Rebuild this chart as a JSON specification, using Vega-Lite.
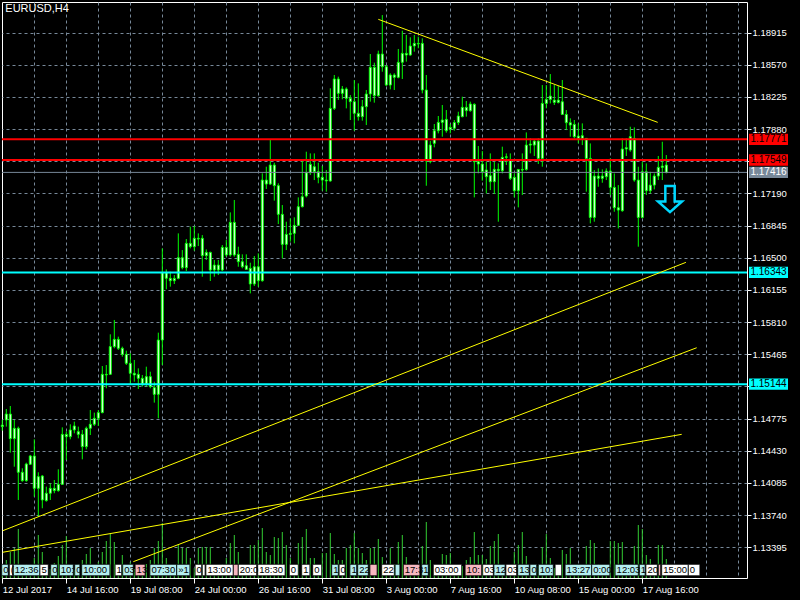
{
"$schema":"https://vega.github.io/schema/vega-lite/v6.json",
"width":745,"height":576,
"autosize":{"type":"none"},
"padding":{"left":2,"top":2,"right":53,"bottom":22},
"background":"#000000",
"config":{"view":{"stroke":"#FFFFFF","strokeWidth":1},"scale":{"continuousPadding":0}},
"datasets":{
"candles":[
{"i":0,"o":1.14689,"h":1.1476,"l":1.14646,"c":1.14706},
{"i":1,"o":1.1476,"h":1.14878,"l":1.14689,"c":1.14824},
{"i":2,"o":1.14824,"h":1.1491,"l":1.1441,"c":1.1456},
{"i":3,"o":1.1456,"h":1.1476,"l":1.14259,"c":1.14671},
{"i":4,"o":1.14671,"h":1.14689,"l":1.13902,"c":1.14199},
{"i":5,"o":1.14199,"h":1.14242,"l":1.14098,"c":1.14109},
{"i":6,"o":1.14109,"h":1.14302,"l":1.14098,"c":1.14288},
{"i":7,"o":1.14285,"h":1.14385,"l":1.14277,"c":1.14374},
{"i":8,"o":1.14374,"h":1.14553,"l":1.13938,"c":1.14027},
{"i":9,"o":1.14027,"h":1.14199,"l":1.13723,"c":1.14152},
{"i":10,"o":1.14159,"h":1.1417,"l":1.13813,"c":1.13902},
{"i":11,"o":1.13895,"h":1.14045,"l":1.13884,"c":1.13974},
{"i":12,"o":1.13974,"h":1.14081,"l":1.13902,"c":1.14027},
{"i":13,"o":1.14027,"h":1.14116,"l":1.13974,"c":1.14002},
{"i":14,"o":1.14002,"h":1.14231,"l":1.13991,"c":1.1407},
{"i":15,"o":1.1407,"h":1.14681,"l":1.14063,"c":1.14606},
{"i":16,"o":1.14606,"h":1.14635,"l":1.14331,"c":1.14581},
{"i":17,"o":1.14581,"h":1.14714,"l":1.14553,"c":1.14653},
{"i":18,"o":1.14653,"h":1.14742,"l":1.14617,"c":1.14696},
{"i":19,"o":1.14635,"h":1.14689,"l":1.14563,"c":1.14606},
{"i":20,"o":1.14606,"h":1.14653,"l":1.14338,"c":1.14474},
{"i":21,"o":1.14474,"h":1.14689,"l":1.14445,"c":1.14671},
{"i":22,"o":1.14671,"h":1.14867,"l":1.14599,"c":1.14714},
{"i":23,"o":1.14714,"h":1.14839,"l":1.14696,"c":1.14778},
{"i":24,"o":1.14778,"h":1.14867,"l":1.14696,"c":1.14839},
{"i":25,"o":1.14839,"h":1.15339,"l":1.14832,"c":1.1525},
{"i":26,"o":1.1525,"h":1.1535,"l":1.151,"c":1.15243},
{"i":27,"o":1.1525,"h":1.15679,"l":1.15243,"c":1.15547},
{"i":28,"o":1.15547,"h":1.15833,"l":1.15529,"c":1.15625},
{"i":29,"o":1.15625,"h":1.15654,"l":1.15511,"c":1.15529},
{"i":30,"o":1.15529,"h":1.15547,"l":1.15439,"c":1.15464},
{"i":31,"o":1.15464,"h":1.15504,"l":1.1535,"c":1.15368},
{"i":32,"o":1.15368,"h":1.15475,"l":1.15146,"c":1.15261},
{"i":33,"o":1.15261,"h":1.15404,"l":1.15171,"c":1.15243},
{"i":34,"o":1.1525,"h":1.15314,"l":1.15093,"c":1.15207},
{"i":35,"o":1.15207,"h":1.15243,"l":1.15118,"c":1.15146},
{"i":36,"o":1.15146,"h":1.15332,"l":1.15118,"c":1.15225},
{"i":37,"o":1.15225,"h":1.15278,"l":1.151,"c":1.15118},
{"i":38,"o":1.15107,"h":1.15171,"l":1.14946,"c":1.15035},
{"i":39,"o":1.15035,"h":1.15697,"l":1.14778,"c":1.15618},
{"i":40,"o":1.15618,"h":1.16601,"l":1.1535,"c":1.16341},
{"i":41,"o":1.16341,"h":1.16376,"l":1.16162,"c":1.1628},
{"i":42,"o":1.1628,"h":1.16351,"l":1.1619,"c":1.16254},
{"i":43,"o":1.16254,"h":1.16315,"l":1.16219,"c":1.16279},
{"i":44,"o":1.16279,"h":1.16762,"l":1.16269,"c":1.16501},
{"i":45,"o":1.16501,"h":1.16583,"l":1.16376,"c":1.16394},
{"i":46,"o":1.16394,"h":1.16701,"l":1.16358,"c":1.16655},
{"i":47,"o":1.16655,"h":1.16834,"l":1.16601,"c":1.16619},
{"i":48,"o":1.16619,"h":1.16841,"l":1.16576,"c":1.16709},
{"i":49,"o":1.16709,"h":1.16762,"l":1.16626,"c":1.16701},
{"i":50,"o":1.16709,"h":1.16744,"l":1.16297,"c":1.16523},
{"i":51,"o":1.16523,"h":1.1659,"l":1.16476,"c":1.16558},
{"i":52,"o":1.16558,"h":1.16565,"l":1.16251,"c":1.16369},
{"i":53,"o":1.16369,"h":1.16476,"l":1.16297,"c":1.16422},
{"i":54,"o":1.16422,"h":1.16476,"l":1.16315,"c":1.16369},
{"i":55,"o":1.16369,"h":1.16637,"l":1.16358,"c":1.16612},
{"i":56,"o":1.16612,"h":1.16691,"l":1.16512,"c":1.1653},
{"i":57,"o":1.1653,"h":1.16987,"l":1.16512,"c":1.1688},
{"i":58,"o":1.1688,"h":1.1712,"l":1.16512,"c":1.1653},
{"i":59,"o":1.16537,"h":1.16619,"l":1.16404,"c":1.16458},
{"i":60,"o":1.16458,"h":1.16537,"l":1.16387,"c":1.16404},
{"i":61,"o":1.16415,"h":1.16537,"l":1.16376,"c":1.16376},
{"i":62,"o":1.16387,"h":1.16447,"l":1.16118,"c":1.16219},
{"i":63,"o":1.16219,"h":1.16519,"l":1.16197,"c":1.16404},
{"i":64,"o":1.16404,"h":1.16548,"l":1.1619,"c":1.16254},
{"i":65,"o":1.16254,"h":1.17406,"l":1.16244,"c":1.17334},
{"i":66,"o":1.17334,"h":1.17477,"l":1.17238,"c":1.17291},
{"i":67,"o":1.17291,"h":1.17774,"l":1.17281,"c":1.17495},
{"i":68,"o":1.17495,"h":1.1752,"l":1.17113,"c":1.17274},
{"i":69,"o":1.17274,"h":1.17299,"l":1.16862,"c":1.16966},
{"i":70,"o":1.16966,"h":1.17066,"l":1.16494,"c":1.16644},
{"i":71,"o":1.16644,"h":1.16887,"l":1.16583,"c":1.16751},
{"i":72,"o":1.16751,"h":1.16923,"l":1.16673,"c":1.16762},
{"i":73,"o":1.16762,"h":1.16934,"l":1.16655,"c":1.16848},
{"i":74,"o":1.16848,"h":1.17148,"l":1.16841,"c":1.17048},
{"i":75,"o":1.17048,"h":1.17542,"l":1.17041,"c":1.17155},
{"i":76,"o":1.17163,"h":1.17638,"l":1.17148,"c":1.17413},
{"i":77,"o":1.17413,"h":1.1762,"l":1.17388,"c":1.17502},
{"i":78,"o":1.17477,"h":1.1762,"l":1.17334,"c":1.17424},
{"i":79,"o":1.17424,"h":1.1752,"l":1.17299,"c":1.17363},
{"i":80,"o":1.17363,"h":1.17485,"l":1.1722,"c":1.17334},
{"i":81,"o":1.17334,"h":1.17442,"l":1.17209,"c":1.17324},
{"i":82,"o":1.17324,"h":1.18318,"l":1.17316,"c":1.18103},
{"i":83,"o":1.18103,"h":1.18461,"l":1.18085,"c":1.18418},
{"i":84,"o":1.18418,"h":1.18443,"l":1.18193,"c":1.18264},
{"i":85,"o":1.18264,"h":1.18343,"l":1.182,"c":1.18311},
{"i":86,"o":1.18311,"h":1.18328,"l":1.18103,"c":1.1821},
{"i":87,"o":1.1821,"h":1.18246,"l":1.17978,"c":1.18175},
{"i":88,"o":1.18175,"h":1.18407,"l":1.17863,"c":1.1805},
{"i":89,"o":1.1805,"h":1.18371,"l":1.17971,"c":1.18014},
{"i":90,"o":1.18014,"h":1.18193,"l":1.17971,"c":1.18121},
{"i":91,"o":1.18121,"h":1.183,"l":1.17924,"c":1.18257},
{"i":92,"o":1.18257,"h":1.18686,"l":1.18175,"c":1.18543},
{"i":93,"o":1.18543,"h":1.18593,"l":1.18164,"c":1.18239},
{"i":94,"o":1.18239,"h":1.18722,"l":1.18228,"c":1.18686},
{"i":95,"o":1.18686,"h":1.19104,"l":1.18496,"c":1.1855},
{"i":96,"o":1.1855,"h":1.18568,"l":1.18343,"c":1.18353},
{"i":97,"o":1.18353,"h":1.18479,"l":1.18307,"c":1.18461},
{"i":98,"o":1.18461,"h":1.18479,"l":1.183,"c":1.18436},
{"i":99,"o":1.18436,"h":1.1874,"l":1.18425,"c":1.18597},
{"i":100,"o":1.18597,"h":1.18936,"l":1.18418,"c":1.18693},
{"i":101,"o":1.18693,"h":1.1889,"l":1.18604,"c":1.18675},
{"i":102,"o":1.18675,"h":1.18865,"l":1.18668,"c":1.18772},
{"i":103,"o":1.18772,"h":1.1889,"l":1.18711,"c":1.188},
{"i":104,"o":1.188,"h":1.18872,"l":1.18747,"c":1.18793},
{"i":105,"o":1.188,"h":1.18854,"l":1.18264,"c":1.183},
{"i":106,"o":1.183,"h":1.18461,"l":1.17273,"c":1.17538},
{"i":107,"o":1.17531,"h":1.17753,"l":1.17513,"c":1.1771},
{"i":108,"o":1.17728,"h":1.17935,"l":1.17685,"c":1.17863},
{"i":109,"o":1.17863,"h":1.18021,"l":1.17835,"c":1.17953},
{"i":110,"o":1.17953,"h":1.18139,"l":1.17799,"c":1.17978},
{"i":111,"o":1.17985,"h":1.18085,"l":1.17842,"c":1.17863},
{"i":112,"o":1.17878,"h":1.17935,"l":1.17835,"c":1.17899},
{"i":113,"o":1.17889,"h":1.17978,"l":1.17863,"c":1.17951},
{"i":114,"o":1.17951,"h":1.18067,"l":1.17924,"c":1.18021},
{"i":115,"o":1.18014,"h":1.18228,"l":1.18007,"c":1.18114},
{"i":116,"o":1.18114,"h":1.18182,"l":1.18014,"c":1.18078},
{"i":117,"o":1.18078,"h":1.18175,"l":1.18067,"c":1.1815},
{"i":118,"o":1.18146,"h":1.18157,"l":1.17148,"c":1.17531},
{"i":119,"o":1.17531,"h":1.17699,"l":1.17406,"c":1.17506},
{"i":120,"o":1.17506,"h":1.17645,"l":1.17327,"c":1.17424},
{"i":121,"o":1.17442,"h":1.17531,"l":1.17191,"c":1.1737},
{"i":122,"o":1.17381,"h":1.1762,"l":1.17227,"c":1.17316},
{"i":123,"o":1.17316,"h":1.17531,"l":1.17184,"c":1.17449},
{"i":124,"o":1.17449,"h":1.17513,"l":1.16887,"c":1.17434},
{"i":125,"o":1.17434,"h":1.17692,"l":1.17405,"c":1.17577},
{"i":126,"o":1.17577,"h":1.1762,"l":1.17495,"c":1.17584},
{"i":127,"o":1.17549,"h":1.1762,"l":1.17334,"c":1.17352},
{"i":128,"o":1.17363,"h":1.17405,"l":1.17148,"c":1.17219},
{"i":129,"o":1.17219,"h":1.17441,"l":1.17041,"c":1.17448},
{"i":130,"o":1.17448,"h":1.1762,"l":1.17173,"c":1.17441},
{"i":131,"o":1.17448,"h":1.17845,"l":1.17434,"c":1.17709},
{"i":132,"o":1.17709,"h":1.17781,"l":1.1762,"c":1.1772},
{"i":133,"o":1.17709,"h":1.17763,"l":1.17592,"c":1.17752},
{"i":134,"o":1.17752,"h":1.17781,"l":1.17506,"c":1.17566},
{"i":135,"o":1.17566,"h":1.18353,"l":1.17477,"c":1.18156},
{"i":136,"o":1.18156,"h":1.18353,"l":1.18103,"c":1.18199},
{"i":137,"o":1.18199,"h":1.18471,"l":1.18156,"c":1.18235},
{"i":138,"o":1.18192,"h":1.18353,"l":1.18139,"c":1.18167},
{"i":139,"o":1.18167,"h":1.18342,"l":1.18156,"c":1.18192},
{"i":140,"o":1.18174,"h":1.18407,"l":1.18031,"c":1.18038},
{"i":141,"o":1.18038,"h":1.18085,"l":1.1787,"c":1.17949},
{"i":142,"o":1.17949,"h":1.17996,"l":1.17799,"c":1.17924},
{"i":143,"o":1.17931,"h":1.17978,"l":1.17781,"c":1.17799},
{"i":144,"o":1.17806,"h":1.17942,"l":1.17727,"c":1.17781},
{"i":145,"o":1.17781,"h":1.17942,"l":1.17709,"c":1.1781},
{"i":146,"o":1.17781,"h":1.17781,"l":1.17209,"c":1.17566},
{"i":147,"o":1.17566,"h":1.17727,"l":1.16869,"c":1.16933},
{"i":148,"o":1.16933,"h":1.17441,"l":1.16887,"c":1.17377},
{"i":149,"o":1.17377,"h":1.17459,"l":1.17262,"c":1.17352},
{"i":150,"o":1.17352,"h":1.17448,"l":1.17305,"c":1.17377},
{"i":151,"o":1.1737,"h":1.17459,"l":1.17334,"c":1.17431},
{"i":152,"o":1.17431,"h":1.17566,"l":1.17173,"c":1.17255},
{"i":153,"o":1.17255,"h":1.17405,"l":1.16994,"c":1.17037},
{"i":154,"o":1.17037,"h":1.1728,"l":1.16815,"c":1.17012},
{"i":155,"o":1.17005,"h":1.17781,"l":1.16994,"c":1.17667},
{"i":156,"o":1.17667,"h":1.17781,"l":1.17592,"c":1.17681},
{"i":157,"o":1.17656,"h":1.17906,"l":1.17638,"c":1.17799},
{"i":158,"o":1.17781,"h":1.17899,"l":1.17316,"c":1.17334},
{"i":159,"o":1.17334,"h":1.17477,"l":1.16619,"c":1.16933},
{"i":160,"o":1.16933,"h":1.17531,"l":1.16923,"c":1.17423},
{"i":161,"o":1.17423,"h":1.17513,"l":1.17173,"c":1.17219},
{"i":162,"o":1.17219,"h":1.17423,"l":1.17191,"c":1.1728},
{"i":163,"o":1.1728,"h":1.17405,"l":1.17234,"c":1.17377},
{"i":164,"o":1.17377,"h":1.17592,"l":1.17334,"c":1.1747},
{"i":165,"o":1.1747,"h":1.17745,"l":1.17334,"c":1.17484},
{"i":166,"o":1.17495,"h":1.17602,"l":1.17405,"c":1.17416}
],
"volume":[
{"i":0,"v":3000},{"i":1,"v":4500},{"i":2,"v":6500},{"i":3,"v":7500},{"i":4,"v":12250},{"i":5,"v":2500},{"i":6,"v":3500},{"i":7,"v":2000},{"i":8,"v":5000},{"i":9,"v":10750},
{"i":10,"v":6500},{"i":11,"v":3000},{"i":12,"v":2250},{"i":13,"v":3750},{"i":14,"v":5500},{"i":15,"v":8250},{"i":16,"v":10500},{"i":17,"v":2500},{"i":18,"v":2000},{"i":19,"v":3500},
{"i":20,"v":4500},{"i":21,"v":6000},{"i":22,"v":7500},{"i":23,"v":3000},{"i":24,"v":4000},{"i":25,"v":6500},{"i":26,"v":9250},{"i":27,"v":11000},{"i":28,"v":9000},{"i":29,"v":3000},
{"i":30,"v":5750},{"i":31,"v":2500},{"i":32,"v":4000},{"i":33,"v":2250},{"i":34,"v":3000},{"i":35,"v":2000},{"i":36,"v":3500},{"i":37,"v":4500},{"i":38,"v":7500},{"i":39,"v":9250},
{"i":40,"v":13750},{"i":41,"v":5000},{"i":42,"v":3000},{"i":43,"v":2000},{"i":44,"v":8500},{"i":45,"v":7500},{"i":46,"v":7500},{"i":47,"v":5000},{"i":48,"v":2500},{"i":49,"v":7500},
{"i":50,"v":7750},{"i":51,"v":7750},{"i":52,"v":7750},{"i":53,"v":3000},{"i":54,"v":2250},{"i":55,"v":3500},{"i":56,"v":5000},{"i":57,"v":8750},{"i":58,"v":10750},{"i":59,"v":6500},
{"i":60,"v":2500},{"i":61,"v":2000},{"i":62,"v":8250},{"i":63,"v":8250},{"i":64,"v":9500},{"i":65,"v":12500},{"i":66,"v":6500},{"i":67,"v":5750},{"i":68,"v":10250},{"i":69,"v":10000},
{"i":70,"v":11500},{"i":71,"v":8250},{"i":72,"v":5000},{"i":73,"v":3000},{"i":74,"v":8750},{"i":75,"v":10250},{"i":76,"v":12250},{"i":77,"v":5000},{"i":78,"v":5000},{"i":79,"v":2000},
{"i":80,"v":6250},{"i":81,"v":6250},{"i":82,"v":11250},{"i":83,"v":6000},{"i":84,"v":4500},{"i":85,"v":4500},{"i":86,"v":7500},{"i":87,"v":8250},{"i":88,"v":11250},{"i":89,"v":7500},
{"i":90,"v":6250},{"i":91,"v":4500},{"i":92,"v":7500},{"i":93,"v":7500},{"i":94,"v":9750},{"i":95,"v":5250},{"i":96,"v":3000},{"i":97,"v":7500},{"i":98,"v":3500},{"i":99,"v":9000},
{"i":100,"v":10750},{"i":101,"v":5250},{"i":102,"v":2500},{"i":103,"v":2000},{"i":104,"v":3000},{"i":105,"v":8000},{"i":106,"v":14000},{"i":107,"v":4500},{"i":108,"v":3000},{"i":109,"v":2500},
{"i":110,"v":6000},{"i":111,"v":5750},{"i":112,"v":6250},{"i":113,"v":2500},{"i":114,"v":2000},{"i":115,"v":3000},{"i":116,"v":4500},{"i":117,"v":5250},{"i":118,"v":11500},{"i":119,"v":5750},
{"i":120,"v":5750},{"i":121,"v":4750},{"i":122,"v":8000},{"i":123,"v":9250},{"i":124,"v":11000},{"i":125,"v":3000},{"i":126,"v":2000},{"i":127,"v":2500},{"i":128,"v":6500},{"i":129,"v":8250},
{"i":130,"v":11500},{"i":131,"v":5500},{"i":132,"v":2500},{"i":133,"v":2000},{"i":134,"v":3000},{"i":135,"v":7750},{"i":136,"v":11000},{"i":137,"v":5000},{"i":138,"v":2500},{"i":139,"v":2000},
{"i":140,"v":7000},{"i":141,"v":6000},{"i":142,"v":7500},{"i":143,"v":3000},{"i":144,"v":2250},{"i":145,"v":2500},{"i":146,"v":8000},{"i":147,"v":9500},{"i":148,"v":8750},{"i":149,"v":3500},
{"i":150,"v":2500},{"i":151,"v":3000},{"i":152,"v":9250},{"i":153,"v":9250},{"i":154,"v":8750},{"i":155,"v":9000},{"i":156,"v":3500},{"i":157,"v":3000},{"i":158,"v":8000},{"i":159,"v":13250},
{"i":160,"v":12250},{"i":161,"v":5750},{"i":162,"v":4750},{"i":163,"v":3000},{"i":164,"v":8250},{"i":165,"v":8250},{"i":166,"v":4750}
],
"hlines":[
{"p":1.17771,"kind":"red","t":"1.17771"},
{"p":1.17549,"kind":"red","t":"1.17549"},
{"p":1.17416,"kind":"grey","t":"1.17416"},
{"p":1.16343,"kind":"cyan","t":"1.16343"},
{"p":1.15144,"kind":"cyan","t":"1.15144"}
],
"trend":[
{"line":"A","i":94.0,"p":1.19058},{"line":"A","i":163.85,"p":1.17953},
{"line":"B","i":0.1,"p":1.13572},{"line":"B","i":170.9,"p":1.16451},
{"line":"C","i":32.75,"p":1.1324},{"line":"C","i":173.6,"p":1.15535},
{"line":"D","i":0.1,"p":1.13341},{"line":"D","i":169.85,"p":1.14606}
],
"events":[
{"x0":-0.15,"x1":1.5,"t":"0","c":"cyan"},
{"x0":1.75,"x1":2.6,"t":"(","c":"white"},
{"x0":2.75,"x1":9.4,"t":"12:36","c":"cyan"},
{"x0":9.4,"x1":11.5,"t":"5","c":"white"},
{"x0":12.1,"x1":13.75,"t":"0","c":"cyan"},
{"x0":14.25,"x1":17.75,"t":"10:","c":"cyan"},
{"x0":18.1,"x1":19.4,"t":"0","c":"cyan"},
{"x0":19.85,"x1":26.9,"t":"10:00","c":"cyan"},
{"x0":28.2,"x1":29.85,"t":"1","c":"white"},
{"x0":30.1,"x1":32.75,"t":"03","c":"cyan"},
{"x0":33.2,"x1":35.7,"t":"13","c":"pink"},
{"x0":36.9,"x1":43.6,"t":"07:30","c":"cyan"},
{"x0":43.6,"x1":46.9,"t":"»1","c":"cyan"},
{"x0":48.2,"x1":49.85,"t":"0","c":"white"},
{"x0":50.0,"x1":50.7,"t":"","c":"white"},
{"x0":50.9,"x1":57.75,"t":"13:00","c":"white"},
{"x0":57.75,"x1":59.0,"t":"","c":"pink"},
{"x0":59.0,"x1":63.6,"t":"20:0","c":"white"},
{"x0":63.85,"x1":70.7,"t":"18:30","c":"white"},
{"x0":71.75,"x1":74.0,"t":"0","c":"white"},
{"x0":74.85,"x1":76.9,"t":"1","c":"white"},
{"x0":77.6,"x1":79.85,"t":"0","c":"white"},
{"x0":82.35,"x1":84.0,"t":"1","c":"cyan"},
{"x0":84.2,"x1":85.7,"t":"0","c":"white"},
{"x0":86.9,"x1":88.6,"t":"1","c":"cyan"},
{"x0":88.85,"x1":91.5,"t":"22","c":"cyan"},
{"x0":91.9,"x1":93.7,"t":"","c":"pink"},
{"x0":94.85,"x1":98.0,"t":"22","c":"white"},
{"x0":98.2,"x1":99.4,"t":"","c":"cyan"},
{"x0":100.25,"x1":104.4,"t":"17:3","c":"pink"},
{"x0":104.85,"x1":106.5,"t":"1","c":"cyan"},
{"x0":107.75,"x1":114.85,"t":"03:00","c":"white"},
{"x0":115.7,"x1":119.85,"t":"10:","c":"pink"},
{"x0":120.1,"x1":122.75,"t":"03","c":"white"},
{"x0":122.9,"x1":125.7,"t":"12","c":"cyan"},
{"x0":125.9,"x1":128.6,"t":"03","c":"white"},
{"x0":128.85,"x1":131.75,"t":"13","c":"cyan"},
{"x0":131.9,"x1":133.6,"t":"0","c":"cyan"},
{"x0":134.0,"x1":137.75,"t":"10:","c":"cyan"},
{"x0":138.2,"x1":139.85,"t":"","c":"white"},
{"x0":140.7,"x1":147.35,"t":"13:27","c":"cyan"},
{"x0":147.35,"x1":151.9,"t":"0:00","c":"cyan"},
{"x0":153.2,"x1":159.0,"t":"12:03","c":"cyan"},
{"x0":159.25,"x1":160.7,"t":"1","c":"cyan"},
{"x0":160.9,"x1":163.75,"t":"20","c":"white"},
{"x0":164.0,"x1":164.6,"t":"","c":"pink"},
{"x0":164.85,"x1":171.5,"t":"15:00","c":"white"},
{"x0":171.5,"x1":174.4,"t":"0","c":"white"}
],
"arrow":[{"i":166.925,"p":1.1713}],
"label":[{"t":"EURUSD,H4"}]
},
"resolve":{"scale":{"y":"independent"},"axis":{"x":"independent","y":"independent"}},
"layer":[
{
"data":{"name":"volume"},
"mark":{"type":"rule","color":"#32CD32","strokeWidth":1},
"encoding":{
"x":{"field":"i","type":"quantitative","scale":{"domain":[-0.075,186.175],"nice":false,"zero":false,"padding":0},
"axis":{"orient":"bottom","values":[8,16,24,32,40,48,56,64,72,80,88,96,104,112,120,128,136,144,152,160,168,176,184],
"title":null,"domain":false,"labels":false,"ticks":false,"grid":true,"gridColor":"#778899","gridDash":[3,3],"gridWidth":1}},
"y":{"field":"v","type":"quantitative","scale":{"domain":[0,144000],"nice":false,"zero":true,"padding":0},"axis":null},
"y2":{"datum":0}
}
},
{
"data":{"name":"candles"},
"mark":{"type":"rule","color":"#00FF00","strokeWidth":1},
"encoding":{
"x":{"field":"i","type":"quantitative","scale":{"domain":[-0.075,186.175],"nice":false,"zero":false,"padding":0},
"axis":{"orient":"bottom","values":[0,16,32,48,64,80,96,112,128,144,160],"title":null,"domain":false,"grid":false,
"ticks":true,"tickColor":"#FFFFFF","tickSize":5,
"labelExpr":"['12 Jul 2017','14 Jul 16:00','19 Jul 08:00','24 Jul 00:00','26 Jul 16:00','31 Jul 08:00','3 Aug 00:00','7 Aug 16:00','10 Aug 08:00','15 Aug 00:00','17 Aug 16:00'][round(datum.value/16)]",
"labelColor":"#FFFFFF","labelFont":"Liberation Sans","labelFontSize":9.5,"labelAlign":"left","labelBaseline":"top","labelPadding":1,"labelFlush":false,"labelOverlap":false}},
"y":{"field":"l","type":"quantitative","scale":{"domain":[1.13065,1.19244],"nice":false,"zero":false,"padding":0},
"axis":{"orient":"right","title":null,"domain":false,
"values":[1.13395,1.1374,1.14085,1.1443,1.14775,1.1512,1.15465,1.1581,1.16155,1.165,1.16845,1.1719,1.17535,1.1788,1.18225,1.1857,1.18915],
"labelExpr":"(abs(datum.value-1.17535)<0.00001 || abs(datum.value-1.1512)<0.00001) ? '' : format(datum.value,'.5f')",
"grid":true,"gridColor":"#778899","gridDash":[3,3],"gridWidth":1,
"ticks":true,"tickColor":"#FFFFFF","tickSize":4,
"labelColor":"#FFFFFF","labelFont":"Liberation Sans","labelFontSize":9.5,"labelPadding":1,"labelAlign":"left","labelBaseline":"middle","labelFlush":false,"labelOverlap":false}},
"y2":{"field":"h"}
}
},
{
"data":{"name":"candles"},
"mark":{"type":"bar","width":2,"fill":"#FFFFFF","stroke":"#00FF00","strokeWidth":1},
"encoding":{
"x":{"field":"i","type":"quantitative","scale":{"domain":[-0.075,186.175],"nice":false,"zero":false,"padding":0},"axis":null},
"y":{"field":"o","type":"quantitative","scale":{"domain":[1.13065,1.19244],"nice":false,"zero":false,"padding":0},"axis":null},
"y2":{"field":"c"}
}
},
{
"data":{"name":"hlines"},
"mark":{"type":"rule"},
"encoding":{
"y":{"field":"p","type":"quantitative","scale":{"domain":[1.13065,1.19244],"nice":false,"zero":false,"padding":0},"axis":null},
"color":{"condition":[{"test":"datum.kind==='red'","value":"#FF0000"},{"test":"datum.kind==='cyan'","value":"#00FFFF"}],"value":"#778899"},
"strokeWidth":{"condition":{"test":"datum.kind==='grey'","value":1},"value":2}
}
},
{
"data":{"name":"trend"},
"mark":{"type":"line","color":"#FFFF00","strokeWidth":1},
"encoding":{
"x":{"field":"i","type":"quantitative","scale":{"domain":[-0.075,186.175],"nice":false,"zero":false,"padding":0},"axis":null},
"y":{"field":"p","type":"quantitative","scale":{"domain":[1.13065,1.19244],"nice":false,"zero":false,"padding":0},"axis":null},
"detail":{"field":"line","type":"nominal"}
}
},
{
"data":{"name":"events"},
"mark":{"type":"rect","stroke":"#000000","strokeWidth":0.8},
"encoding":{
"x":{"field":"x0","type":"quantitative","scale":{"domain":[-0.075,186.175],"nice":false,"zero":false,"padding":0},"axis":null},
"x2":{"field":"x1"},
"y":{"datum":1.13212,"type":"quantitative","scale":{"domain":[1.13065,1.19244],"nice":false,"zero":false,"padding":0},"axis":null},
"y2":{"datum":1.13089},
"fill":{"condition":[{"test":"datum.c==='cyan'","value":"#B4EEF0"},{"test":"datum.c==='pink'","value":"#F7B7C0"}],"value":"#FFFFFF"}
}
},
{
"data":{"name":"events"},
"mark":{"type":"text","align":"left","baseline":"middle","dx":1.5,"font":"Liberation Sans","fontSize":9.5,"color":"#000000"},
"encoding":{
"x":{"field":"x0","type":"quantitative","scale":{"domain":[-0.075,186.175],"nice":false,"zero":false,"padding":0},"axis":null},
"y":{"datum":1.1315,"type":"quantitative","scale":{"domain":[1.13065,1.19244],"nice":false,"zero":false,"padding":0},"axis":null},
"text":{"field":"t"}
}
},
{
"data":{"name":"arrow"},
"mark":{"type":"point","shape":"M -0.36 -1 L 0.36 -1 L 0.36 0.18 L 0.92 0.18 L 0 1 L -0.92 0.18 L -0.36 0.18 Z","filled":false,"stroke":"#00D8FF","strokeWidth":2.5,"size":676,"opacity":1},
"encoding":{
"x":{"field":"i","type":"quantitative","scale":{"domain":[-0.075,186.175],"nice":false,"zero":false,"padding":0},"axis":null},
"y":{"field":"p","type":"quantitative","scale":{"domain":[1.13065,1.19244],"nice":false,"zero":false,"padding":0},"axis":null}
}
},
{
"data":{"name":"hlines"},
"mark":{"type":"point","shape":"M -1 -0.29 L 1 -0.29 L 1 0.29 L -1 0.29 Z","filled":true,"size":1521,"opacity":1,"strokeWidth":0},
"encoding":{
"x":{"datum":191.55,"type":"quantitative","scale":{"domain":[-0.075,186.175],"nice":false,"zero":false,"padding":0},"axis":null},
"y":{"field":"p","type":"quantitative","scale":{"domain":[1.13065,1.19244],"nice":false,"zero":false,"padding":0},"axis":null},
"fill":{"condition":[{"test":"datum.kind==='red'","value":"#FF0000"},{"test":"datum.kind==='cyan'","value":"#00FFFF"}],"value":"#778899"}
}
},
{
"data":{"name":"hlines"},
"mark":{"type":"text","align":"center","baseline":"middle","font":"Liberation Sans","fontSize":10},
"encoding":{
"x":{"datum":191.55,"type":"quantitative","scale":{"domain":[-0.075,186.175],"nice":false,"zero":false,"padding":0},"axis":null},
"y":{"field":"p","type":"quantitative","scale":{"domain":[1.13065,1.19244],"nice":false,"zero":false,"padding":0},"axis":null},
"text":{"field":"t"},
"color":{"condition":{"test":"datum.kind==='grey'","value":"#FFFFFF"},"value":"#000000"}
}
},
{
"data":{"name":"label"},
"mark":{"type":"text","align":"left","baseline":"middle","font":"Liberation Sans","fontSize":11,"color":"#FFFFFF"},
"encoding":{
"x":{"datum":0.75,"type":"quantitative","scale":{"domain":[-0.075,186.175],"nice":false,"zero":false,"padding":0},"axis":null},
"y":{"datum":1.19174,"type":"quantitative","scale":{"domain":[1.13065,1.19244],"nice":false,"zero":false,"padding":0},"axis":null},
"text":{"field":"t"}
}
}
]
}
